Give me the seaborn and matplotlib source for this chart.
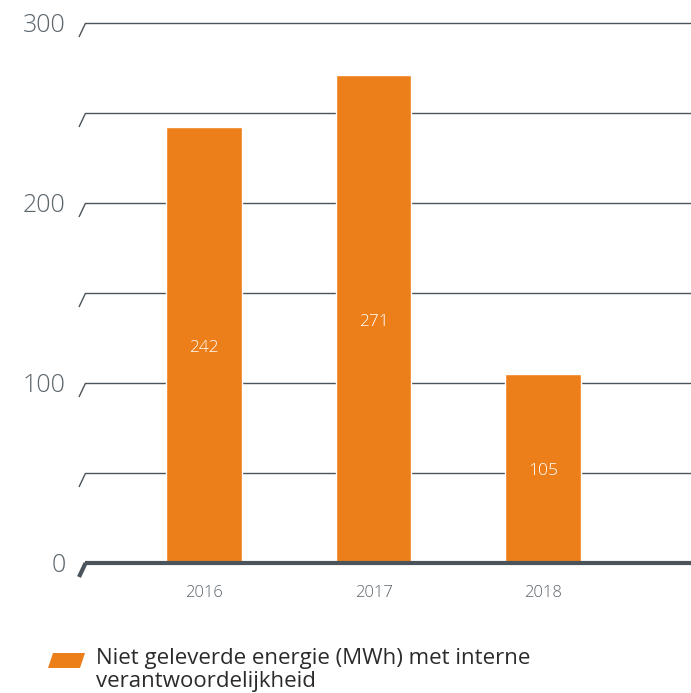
import numpy as np
import matplotlib
matplotlib.use('Agg')
import matplotlib.pyplot as plt
from matplotlib.patches import Polygon
import seaborn as sns

# data
years = ['2016', '2017', '2018']
values = [242, 271, 105]
y_labels = [0, 100, 200, 300]
grid_levels = [0, 50, 100, 150, 200, 250, 300]
legend_label = 'Niet geleverde energie (MWh) met interne\nverantwoordelijkheid'

orange = '#ED7F1A'
dark = '#4A545A'
grey = '#5B656C'

sns.set_style('white')
plt.rcParams['font.family'] = ['Open Sans', 'DejaVu Sans']

fig = plt.figure(figsize=(6.91, 6.93), dpi=100)
ax = fig.add_axes([85 / 691, 1 - 563 / 693, 606 / 691, 540 / 693])

sns.barplot(x=years, y=values, color=orange, saturation=1, width=0.448, ax=ax)

ax.set_xlim(-0.702, 2.873)
ax.set_ylim(0, 300)

# gridlines with the little slanted foot on the left
tr = ax.get_yaxis_transform()
for lv in grid_levels:
    lw = 3 if lv == 0 else 1
    ax.plot([0, 1], [lv, lv], transform=tr, color=dark, lw=lw, zorder=0 if lv else 3,
            clip_on=False, solid_capstyle='butt')
    ax.plot([0.001, -6 / 606], [lv, lv - 14 / 1.8], transform=tr, color=dark, lw=lw,
            clip_on=False, solid_capstyle='butt', zorder=3)

# value labels
for i, v in enumerate(values):
    ax.text(i, v / 2 - 1.5, str(v), ha='center', va='center', color='white',
            fontsize=12.5, fontweight='light')

for s in ax.spines.values():
    s.set_visible(False)
ax.set_yticks(y_labels)
ax.set_yticklabels([str(t) for t in y_labels])
ax.tick_params(axis='y', length=0, pad=14, labelsize=18, labelcolor=grey)
ax.tick_params(axis='x', length=0, pad=16, labelsize=12, labelcolor=grey)
for lab in ax.get_yticklabels() + ax.get_xticklabels():
    lab.set_fontweight('light')
ax.set_xlabel('')
ax.set_ylabel('')

# legend (baseline alignment refers to the last line)
fig.patches.append(Polygon([[48, 693 - 668], [80, 693 - 668], [85, 693 - 653], [53, 693 - 653]],
                           closed=True, transform=None, facecolor=orange, edgecolor='none'))
fig.text(96 / 691, 1 - 687 / 693, legend_label, ha='left', fontsize=16,
         color='#2B2B2B', linespacing=1.12, transform=fig.transFigure,
         va='baseline')

fig.savefig('out.png', dpi=100)
